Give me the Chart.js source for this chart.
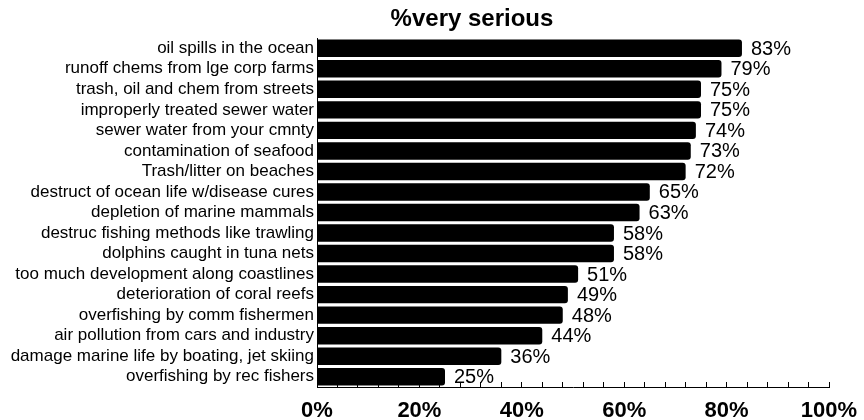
<!DOCTYPE html>
<html>
<head>
<meta charset="utf-8">
<script src="https://cdn.jsdelivr.net/npm/chart.js@4/dist/chart.umd.min.js"></script>
<style>
  html, body { margin: 0; padding: 0; background: #fff; }
  canvas { display: block; }
</style>
</head>
<body>
<canvas id="seriousChart" width="864" height="420"></canvas>
<script>
// Survey items and share who rated them "very serious"
const categories = [
    'oil spills in the ocean',
    'runoff chems from lge corp farms',
    'trash, oil and chem from streets',
    'improperly treated sewer water',
    'sewer water from your cmnty',
    'contamination of seafood',
    'Trash/litter on beaches',
    'destruct of ocean life w/disease cures',
    'depletion of marine mammals',
    'destruc fishing methods like trawling',
    'dolphins caught in tuna nets',
    'too much development along coastlines',
    'deterioration of coral reefs',
    'overfishing by comm fishermen',
    'air pollution from cars and industry',
    'damage marine life by boating, jet skiing',
    'overfishing by rec fishers'
];
const verySerious = [83, 79, 75, 75, 74, 73, 72, 65, 63, 58, 58, 51, 49, 48, 44, 36, 25];
const tickLabels = ['0%', '20%', '40%', '60%', '80%', '100%'];
const chartTitle = '%very serious';

const FONT = '"Liberation Sans", Arial, sans-serif';

// value labels just past the end of every bar
const barValueLabels = {
    id: 'barValueLabels',
    afterDatasetsDraw(chart) {
        const ctx = chart.ctx;
        const meta = chart.getDatasetMeta(0);
        ctx.save();
        ctx.font = '20px ' + FONT;
        ctx.fillStyle = '#000';
        ctx.textAlign = 'left';
        ctx.textBaseline = 'middle';
        meta.data.forEach((bar, i) => {
            ctx.fillText(verySerious[i] + '%', bar.x + 9, bar.y + 1);
        });
        ctx.restore();
    }
};

// title sits a bit right of the canvas centre in the original
const offsetTitle = {
    id: 'offsetTitle',
    afterDraw(chart) {
        const ctx = chart.ctx;
        ctx.save();
        ctx.font = 'bold 24px ' + FONT;
        ctx.fillStyle = '#000';
        ctx.textAlign = 'center';
        ctx.textBaseline = 'middle';
        ctx.fillText(chartTitle, 472, 19);
        ctx.restore();
    }
};

const ctx = document.getElementById('seriousChart').getContext('2d');
new Chart(ctx, {
    type: 'bar',
    data: {
        labels: categories,
        datasets: [{
            label: chartTitle,
            data: verySerious,
            backgroundColor: '#000',
            borderWidth: 0,
            borderRadius: { topRight: 3, bottomRight: 3 },
            borderSkipped: 'start',
            categoryPercentage: 0.85,
            barPercentage: 1
        }]
    },
    options: {
        indexAxis: 'y',
        responsive: false,
        animation: false,
        layout: { padding: { top: 38, right: 35, left: 0, bottom: 0 } },
        plugins: {
            legend: { display: false },
            title: { display: false },
            tooltip: { enabled: false }
        },
        scales: {
            x: {
                min: 0,
                max: 100,
                grid: {
                    drawOnChartArea: false,
                    drawTicks: true,
                    tickLength: -5,
                    color: '#000',
                    lineWidth: 1
                },
                border: { display: true, color: '#000', width: 1 },
                ticks: {
                    stepSize: 4,
                    autoSkip: false,
                    maxRotation: 0,
                    padding: 16,
                    color: '#000',
                    font: { family: FONT, size: 22, weight: 'bold' },
                    callback: v => (v % 20 === 0 ? tickLabels[v / 20] : '')
                },
                afterFit(scale) {
                    scale.height = 33;
                    scale.paddingLeft = 0;
                    scale.paddingRight = 0;
                }
            },
            y: {
                grid: { display: false, drawTicks: false },
                border: { display: true, color: '#000', width: 1 },
                ticks: {
                    autoSkip: false,
                    padding: 3,
                    color: '#000',
                    font: { family: FONT, size: 17 }
                },
                afterFit(scale) {
                    scale.width = 317;
                }
            }
        }
    },
    plugins: [barValueLabels, offsetTitle]
});
</script>
</body>
</html>
